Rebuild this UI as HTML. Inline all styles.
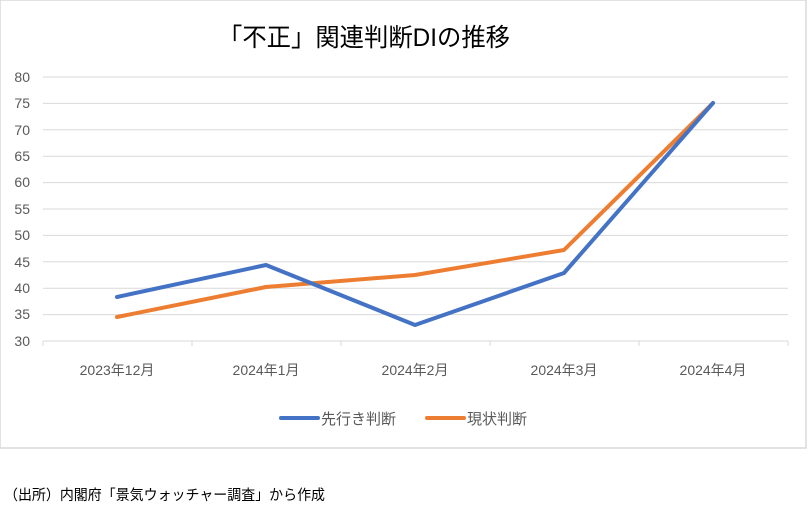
<!DOCTYPE html>
<html><head><meta charset="utf-8"><style>
body{margin:0;background:#fff;}
svg{display:block;font-family:"Liberation Sans","Noto Sans CJK JP",sans-serif;}
</style></head><body>
<svg width="808" height="516" viewBox="0 0 808 516">
<rect x="0" y="0" width="806" height="448" fill="#fff" stroke="#d9d9d9" stroke-width="1.5"/>
<text x="364" y="46" font-size="25" text-anchor="middle" fill="#000" textLength="292" lengthAdjust="spacingAndGlyphs">「不正」関連判断DIの推移</text>
<g stroke="#d9d9d9" stroke-width="1">
<line x1="43" x2="788" y1="77" y2="77"/><line x1="43" x2="788" y1="103.4" y2="103.4"/>
<line x1="43" x2="788" y1="129.8" y2="129.8"/><line x1="43" x2="788" y1="156.2" y2="156.2"/>
<line x1="43" x2="788" y1="182.6" y2="182.6"/><line x1="43" x2="788" y1="209" y2="209"/>
<line x1="43" x2="788" y1="235.4" y2="235.4"/><line x1="43" x2="788" y1="261.8" y2="261.8"/>
<line x1="43" x2="788" y1="288.2" y2="288.2"/><line x1="43" x2="788" y1="314.6" y2="314.6"/>
<line x1="43" x2="788" y1="341" y2="341"/>
<line x1="43" x2="43" y1="341" y2="346"/><line x1="192" x2="192" y1="341" y2="346"/>
<line x1="341" x2="341" y1="341" y2="346"/><line x1="490" x2="490" y1="341" y2="346"/>
<line x1="639" x2="639" y1="341" y2="346"/><line x1="788" x2="788" y1="341" y2="346"/>
</g>
<g font-size="14" fill="#595959" text-anchor="end">
<text x="30" y="82">80</text><text x="30" y="108">75</text><text x="30" y="135">70</text>
<text x="30" y="161">65</text><text x="30" y="187">60</text><text x="30" y="214">55</text>
<text x="30" y="240">50</text><text x="30" y="267">45</text><text x="30" y="293">40</text>
<text x="30" y="319">35</text><text x="30" y="346">30</text>
</g>
<g font-size="14" fill="#595959" text-anchor="middle">
<text x="117" y="375">2023年12月</text><text x="266" y="375">2024年1月</text>
<text x="415" y="375">2024年2月</text><text x="564" y="375">2024年3月</text>
<text x="713" y="375">2024年4月</text>
</g>
<polyline fill="none" stroke="#ed7d31" stroke-width="4" stroke-linejoin="round" stroke-linecap="round" points="117,317 266,287 415,275 564,250 713,103"/>
<polyline fill="none" stroke="#4472c4" stroke-width="4" stroke-linejoin="round" stroke-linecap="round" points="117,297 266,265 415,325 564,273 713,103"/>
<line x1="281" x2="318" y1="418" y2="418" stroke="#4472c4" stroke-width="4" stroke-linecap="round"/>
<text x="321" y="424" font-size="15" fill="#595959">先行き判断</text>
<line x1="427" x2="464" y1="418" y2="418" stroke="#ed7d31" stroke-width="4" stroke-linecap="round"/>
<text x="467" y="424" font-size="15" fill="#595959">現状判断</text>
<text x="4" y="500" font-size="14.5" fill="#000" textLength="321" lengthAdjust="spacingAndGlyphs">（出所）内閣府「景気ウォッチャー調査」から作成</text>
</svg>
</body></html>
